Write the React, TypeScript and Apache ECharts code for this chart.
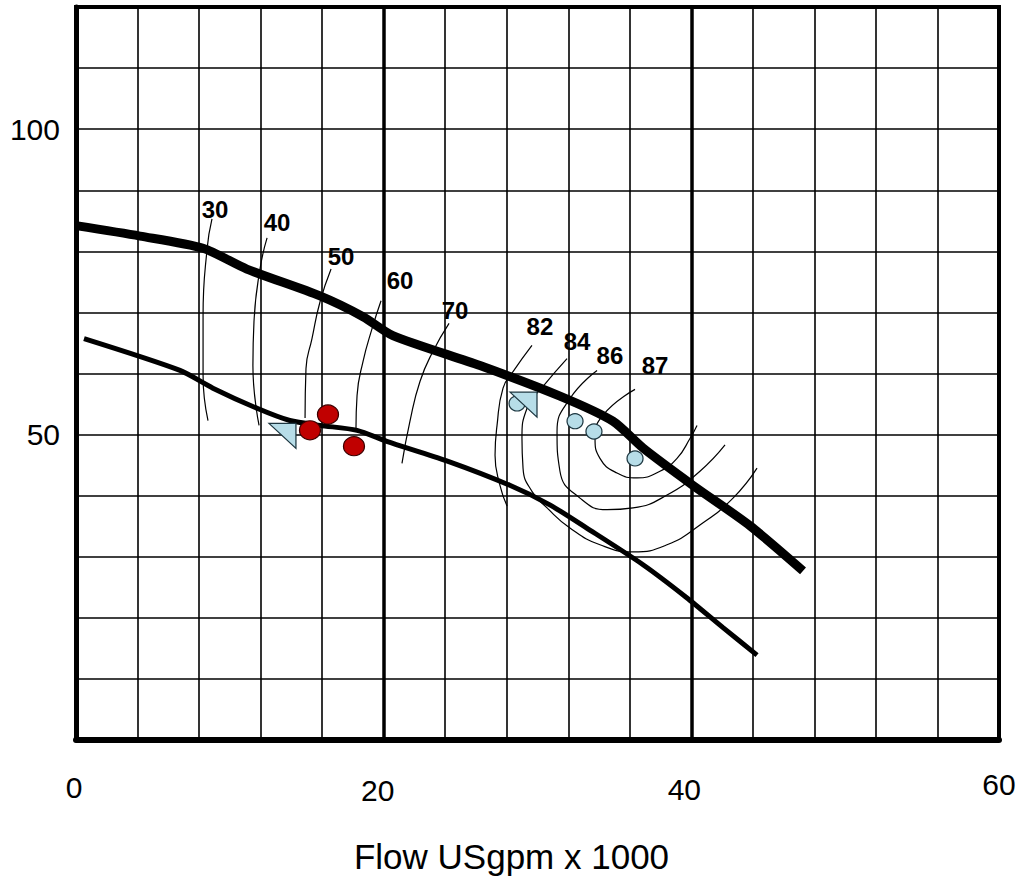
import React, { useEffect, useRef } from "react";
import * as echarts from "echarts";

// ---- Data ----
const xTickLabels = [0, 20, 40, 60];
const yTickLabels = [50, 100];
const xBoldGrid = [20, 40];

const upperCurve: [number, number][] = [
  [0, 84.2], [4.16, 82.5], [8.26, 80.5], [11.1, 77.1], [15.86, 72.7], [18.66, 69.3],
  [20.6, 66.2], [26.26, 61.3], [31.46, 56.3], [34.9, 52.2], [36.86, 47.8],
  [40.1, 41.7], [43.8, 35.1], [47.26, 27.7],
];

const lowerCurve: [number, number][] = [
  [0.52, 65.7], [6.76, 60.5], [8.9, 57.6], [11.77, 54.3], [13.9, 52.3], [15.86, 51.5],
  [18.27, 50.7], [20.2, 48.9], [24.1, 45.7], [28.2, 41.7], [30.8, 38.5], [33.2, 34.7],
  [36.86, 28.7], [39.7, 23.3], [42.06, 18.4], [44.27, 13.9],
];

const eff30: [number, number][] = [[8.84, 85.3], [8.52, 80.4], [8.26, 69.5], [8.26, 59.7], [8.58, 52.3]];
const eff40: [number, number][] = [[12.42, 82.2], [11.96, 77.1], [11.57, 68.5], [11.5, 61.3], [11.9, 51.5]];
const eff50: [number, number][] = [[16.58, 77.1], [15.86, 71.7], [15.34, 65.7], [14.95, 60.8], [14.89, 52.7]];
const eff60: [number, number][] = [[19.83, 71.9], [19.24, 67.3], [18.66, 62.0], [18.27, 56.4], [18.2, 51.0]];
const eff70: [number, number][] = [[24.25, 68.2], [23.2, 63.6], [22.36, 58.7], [21.71, 52.2], [21.19, 45.3]];

const eff82: [number, number][] = [
  [29.64, 64.6], [28.41, 60.3], [27.76, 57.6], [27.37, 51.5], [27.24, 46.6], [27.56, 41.7], [28.02, 38.3],
];
const eff84: [number, number][] = [
  [31.92, 62.45], [30.36, 57.88], [29.32, 54.3], [28.99, 49.4], [29.06, 44.5], [29.64, 40.7],
  [30.62, 38.0], [32.11, 34.7], [34.06, 31.96], [36.21, 30.8], [38.42, 31.96], [40.56, 35.2],
  [42.71, 39.6], [44.27, 44.5],
];
const eff86: [number, number][] = [
  [33.87, 60.5], [32.11, 55.9], [31.27, 50.5], [31.46, 44.0], [32.76, 39.6], [34.52, 37.7],
  [36.21, 38.0], [38.42, 40.1], [40.56, 44.0], [42.19, 48.3],
];
const eff87: [number, number][] = [
  [36.34, 57.4], [34.26, 53.2], [33.74, 49.4], [34.06, 46.1], [35.17, 43.7], [36.47, 42.9],
  [37.96, 44.0], [39.07, 46.1], [39.92, 49.4], [40.37, 51.5],
];

const effLabelText = ["30", "40", "50", "60", "70", "82", "84", "86", "87"];
const effLabelX = [9.04, 13.07, 17.23, 21.06, 24.64, 30.16, 32.57, 34.71, 37.64];
const effLabelY = [86.9, 84.8, 79.2, 75.2, 70.3, 67.7, 65.2, 62.9, 61.3];

const redPoints: [number, number][] = [[16.38, 53.3], [15.21, 50.7], [18.07, 48.1]];
const bluePoints: [number, number][] = [[28.67, 55.1], [32.44, 52.2], [33.67, 50.5], [36.34, 46.1]];
const trianglePoints: [number, number][] = [[13.42, 49.8], [29.09, 54.9]];

const FONT = "'Liberation Sans', Arial, sans-serif";
const BLUE = "#b7dde8";
const RED = "#c00000";

export default function App() {
  const ref = useRef<HTMLDivElement>(null);

  useEffect(() => {
    if (!ref.current) return;
    const chart = echarts.init(ref.current, null, { renderer: "svg" });

    const thinLine = (data: [number, number][], extra: any = {}) => ({
      type: "line",
      data,
      smooth: 0.5,
      symbol: "none",
      silent: true,
      z: 3,
      lineStyle: { color: "#000", width: 1.2 },
      ...extra,
    });

    const xRich: any = {
      t0: { fontSize: 30, fontFamily: FONT, color: "#000", padding: [3, 4, 0, 0] },
      t20: { fontSize: 30, fontFamily: FONT, color: "#000", padding: [6, 12, 0, 0] },
      t40: { fontSize: 30, fontFamily: FONT, color: "#000", padding: [5, 14, 0, 0] },
      t60: { fontSize: 30, fontFamily: FONT, color: "#000", padding: [0, 0, 0, 0] },
    };

    const option: any = {
      animation: false,
      backgroundColor: "#fff",
      grid: {
        left: 76,
        top: 7,
        width: 923,
        height: 736,
        show: true,
        borderColor: "#000",
        borderWidth: 4,
        backgroundColor: "transparent",
      },
      xAxis: {
        type: "value",
        min: 0,
        max: 60,
        interval: 4,
        name: "Flow USgpm x 1000",
        nameLocation: "middle",
        nameGap: 99,
        nameTextStyle: {
          fontSize: 35,
          fontFamily: FONT,
          color: "#000",
          padding: [0, 52, 0, 0],
        },
        axisLine: { show: true, onZero: false, lineStyle: { color: "#000", width: 6 } },
        axisTick: { show: false },
        splitLine: { show: true, lineStyle: { color: "#000", width: 1.6 } },
        axisLabel: {
          margin: 29,
          formatter: (v: number) => (xTickLabels.includes(v) ? `{t${v}|${v}}` : ""),
          rich: xRich,
        },
      },
      yAxis: {
        type: "value",
        min: 0,
        max: 120,
        interval: 10,
        axisLine: { show: true, onZero: false, lineStyle: { color: "#000", width: 5 } },
        axisTick: { show: false },
        splitLine: { show: true, lineStyle: { color: "#000", width: 1.6 } },
        axisLabel: {
          margin: 16,
          fontSize: 30,
          fontFamily: FONT,
          color: "#000",
          formatter: (v: number) => (yTickLabels.includes(v) ? String(v) : ""),
        },
      },
      series: [
        thinLine(eff30, {
          markLine: {
            silent: true,
            symbol: "none",
            label: { show: false },
            lineStyle: { color: "#000", width: 3.5, type: "solid" },
            data: xBoldGrid.map((v) => ({ xAxis: v })),
          },
        }),
        thinLine(eff40),
        thinLine(eff50),
        thinLine(eff60),
        thinLine(eff70),
        thinLine(eff82),
        thinLine(eff84),
        thinLine(eff86),
        thinLine(eff87),
        {
          type: "line",
          data: lowerCurve,
          smooth: 0.25,
          symbol: "none",
          silent: true,
          z: 4,
          lineStyle: { color: "#000", width: 5 },
        },
        {
          type: "line",
          data: upperCurve,
          smooth: 0.25,
          symbol: "none",
          silent: true,
          z: 4,
          lineStyle: { color: "#000", width: 9 },
        },
        {
          type: "scatter",
          data: effLabelText.map((t, i) => ({ name: t, value: [effLabelX[i], effLabelY[i]] })),
          symbolSize: 0,
          silent: true,
          z: 6,
          itemStyle: { color: "#000", opacity: 1 },
          label: {
            show: true,
            position: "inside",
            formatter: (p: any) => p.name,
            fontSize: 24,
            fontWeight: "bold",
            fontFamily: FONT,
            color: "#000000",
            opacity: 1,
            textBorderWidth: 0,
          },
        },
        {
          type: "scatter",
          data: bluePoints,
          symbol: "circle",
          symbolSize: [16, 15],
          silent: true,
          z: 7,
          itemStyle: { color: BLUE, borderColor: "#1c3640", borderWidth: 1.2, opacity: 1 },
        },
        {
          type: "scatter",
          data: trianglePoints,
          symbol: "path://M0,0 L27,0 L27,25 Z",
          symbolSize: [27, 25],
          symbolKeepAspect: false,
          silent: true,
          z: 8,
          itemStyle: { color: BLUE, borderColor: "#1c3640", borderWidth: 1.2, opacity: 1 },
        },
        {
          type: "scatter",
          data: redPoints,
          symbol: "circle",
          symbolSize: [21, 19],
          silent: true,
          z: 9,
          itemStyle: { color: RED, borderColor: "#3a0000", borderWidth: 1.2, opacity: 1 },
        },
      ],
    };

    chart.setOption(option);
    return () => chart.dispose();
  }, []);

  return (
    <div
      ref={ref}
      style={{ position: "absolute", left: 0, top: 0, width: 1021, height: 879, background: "#fff" }}
    />
  );
}
